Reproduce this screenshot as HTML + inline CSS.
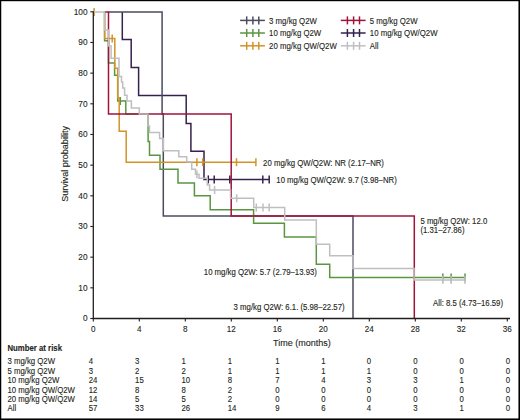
<!DOCTYPE html>
<html><head><meta charset="utf-8"><style>
html,body{margin:0;padding:0;background:#fff;}
body{width:520px;height:420px;overflow:hidden;position:relative;}
svg{position:absolute;left:0;top:0;}
text{font-family:"Liberation Sans", sans-serif;fill:#231f20;stroke:#231f20;stroke-width:0.12;}
</style></head><body>
<svg width="520" height="420" viewBox="0 0 520 420">
<rect x="0" y="0" width="520" height="420" fill="#fff"/>

<path d="M122.3,12 V39.5 H131.2 V67.6 H138.6 V95.4 H186.2 V123.4 H190.9 V151.3 H204 V179.4 H269.2" fill="none" stroke="#36214e" stroke-width="1.5" stroke-linejoin="miter" stroke-linecap="butt"/>
<line x1="208.3" y1="175.4" x2="208.3" y2="183.4" stroke="#36214e" stroke-width="1.5"/>
<line x1="214.2" y1="175.4" x2="214.2" y2="183.4" stroke="#36214e" stroke-width="1.5"/>
<line x1="229.8" y1="175.4" x2="229.8" y2="183.4" stroke="#36214e" stroke-width="1.5"/>
<line x1="262.8" y1="175.4" x2="262.8" y2="183.4" stroke="#36214e" stroke-width="1.5"/>
<line x1="269.2" y1="175.4" x2="269.2" y2="183.4" stroke="#36214e" stroke-width="1.5"/>
<path d="M108.6,12 H162.1 V114 H163.3 V216 H353 V318.5" fill="none" stroke="#4a4c5e" stroke-width="1.5" stroke-linejoin="miter" stroke-linecap="butt"/>
<path d="M104.6,12 V40.7 H108.5 V62.9 H114.6 V75.2 H117.7 V101 H125.8 V114 H148.1 V141.4 H149.5 V155.3 H160 V169.2 H178 V183 H194.4 V195.8 H210.2 V209.7 H253.6 V223.3 H284.4 V237 H316.3 V264.2 H329.7 V277.5 H465" fill="none" stroke="#5a9642" stroke-width="1.5" stroke-linejoin="miter" stroke-linecap="butt"/>
<line x1="120.3" y1="97.0" x2="120.3" y2="105.0" stroke="#5a9642" stroke-width="1.5"/>
<line x1="442.8" y1="273.5" x2="442.8" y2="281.5" stroke="#5a9642" stroke-width="1.5"/>
<line x1="451.1" y1="273.5" x2="451.1" y2="281.5" stroke="#5a9642" stroke-width="1.5"/>
<line x1="465" y1="273.5" x2="465" y2="281.5" stroke="#5a9642" stroke-width="1.5"/>
<path d="M104.6,12 V38.6 H114.8 V68.2 H117.7 V98 H119.2 V131.2 H126.2 V162.2 H256" fill="none" stroke="#d29328" stroke-width="1.5" stroke-linejoin="miter" stroke-linecap="butt"/>
<line x1="94.1" y1="8" x2="94.1" y2="16" stroke="#d29328" stroke-width="1.5"/>
<line x1="112.2" y1="34.6" x2="112.2" y2="42.6" stroke="#d29328" stroke-width="1.5"/>
<line x1="196.9" y1="158.2" x2="196.9" y2="166.2" stroke="#d29328" stroke-width="1.5"/>
<line x1="202.7" y1="158.2" x2="202.7" y2="166.2" stroke="#d29328" stroke-width="1.5"/>
<line x1="236.5" y1="158.2" x2="236.5" y2="166.2" stroke="#d29328" stroke-width="1.5"/>
<line x1="255.9" y1="158.2" x2="255.9" y2="166.2" stroke="#d29328" stroke-width="1.5"/>
<path d="M104.4,12 H108.5 V114 H231.2 V216 H414.3 V318.5" fill="none" stroke="#a0143c" stroke-width="1.5" stroke-linejoin="miter" stroke-linecap="butt"/>
<path d="M93.3,12 H104.6 V30 H108.6 V46 H111.1 V58.3 H119 V76.6 H121.5 V82 H122.7 V88 H124.6 V95.3 H127 V101 H131.4 V108 H139.3 V114 H148 V126 H149.5 V132.4 H159.6 V138.6 H163.3 V150.8 H178.8 V156.7 H186.7 V161.7 H191.7 V169.2 H195.5 V174.2 H199 V178.3 H207.3 V185 H209.6 V190 H230.5 V198.3 H253.7 V207.5 H284.7 V220 H316.3 V244.2 H329.7 V255.8 H353 V268.4 H414.1 V280 H465" fill="none" stroke="#bfbfc1" stroke-width="1.5" stroke-linejoin="miter" stroke-linecap="butt"/>
<line x1="214.6" y1="186.0" x2="214.6" y2="194.0" stroke="#bfbfc1" stroke-width="1.5"/>
<line x1="236.7" y1="194.3" x2="236.7" y2="202.3" stroke="#bfbfc1" stroke-width="1.5"/>
<line x1="256.3" y1="203.5" x2="256.3" y2="211.5" stroke="#bfbfc1" stroke-width="1.5"/>
<line x1="263" y1="203.5" x2="263" y2="211.5" stroke="#bfbfc1" stroke-width="1.5"/>
<line x1="269.2" y1="203.5" x2="269.2" y2="211.5" stroke="#bfbfc1" stroke-width="1.5"/>
<line x1="196.9" y1="170.2" x2="196.9" y2="178.2" stroke="#bfbfc1" stroke-width="1.5"/>
<line x1="442.8" y1="276.0" x2="442.8" y2="284.0" stroke="#bfbfc1" stroke-width="1.5"/>
<line x1="451.1" y1="276.0" x2="451.1" y2="284.0" stroke="#bfbfc1" stroke-width="1.5"/>
<line x1="465" y1="276.0" x2="465" y2="284.0" stroke="#bfbfc1" stroke-width="1.5"/>
<line x1="93.3" y1="11.2" x2="93.3" y2="319.1" stroke="#231f20" stroke-width="1.3"/>
<line x1="92.7" y1="318.5" x2="510" y2="318.5" stroke="#231f20" stroke-width="1.3"/>
<line x1="90.3" y1="318.50" x2="93.3" y2="318.50" stroke="#231f20" stroke-width="1.1"/>
<text transform="translate(87.50 321.30) scale(0.9 1)" font-size="9.2" text-anchor="end">0</text>
<line x1="90.3" y1="287.83" x2="93.3" y2="287.83" stroke="#231f20" stroke-width="1.1"/>
<text transform="translate(87.50 290.63) scale(0.9 1)" font-size="9.2" text-anchor="end">10</text>
<line x1="90.3" y1="257.16" x2="93.3" y2="257.16" stroke="#231f20" stroke-width="1.1"/>
<text transform="translate(87.50 259.96) scale(0.9 1)" font-size="9.2" text-anchor="end">20</text>
<line x1="90.3" y1="226.49" x2="93.3" y2="226.49" stroke="#231f20" stroke-width="1.1"/>
<text transform="translate(87.50 229.29) scale(0.9 1)" font-size="9.2" text-anchor="end">30</text>
<line x1="90.3" y1="195.82" x2="93.3" y2="195.82" stroke="#231f20" stroke-width="1.1"/>
<text transform="translate(87.50 198.62) scale(0.9 1)" font-size="9.2" text-anchor="end">40</text>
<line x1="90.3" y1="165.15" x2="93.3" y2="165.15" stroke="#231f20" stroke-width="1.1"/>
<text transform="translate(87.50 167.95) scale(0.9 1)" font-size="9.2" text-anchor="end">50</text>
<line x1="90.3" y1="134.48" x2="93.3" y2="134.48" stroke="#231f20" stroke-width="1.1"/>
<text transform="translate(87.50 137.28) scale(0.9 1)" font-size="9.2" text-anchor="end">60</text>
<line x1="90.3" y1="103.81" x2="93.3" y2="103.81" stroke="#231f20" stroke-width="1.1"/>
<text transform="translate(87.50 106.61) scale(0.9 1)" font-size="9.2" text-anchor="end">70</text>
<line x1="90.3" y1="73.14" x2="93.3" y2="73.14" stroke="#231f20" stroke-width="1.1"/>
<text transform="translate(87.50 75.94) scale(0.9 1)" font-size="9.2" text-anchor="end">80</text>
<line x1="90.3" y1="42.47" x2="93.3" y2="42.47" stroke="#231f20" stroke-width="1.1"/>
<text transform="translate(87.50 45.27) scale(0.9 1)" font-size="9.2" text-anchor="end">90</text>
<line x1="90.3" y1="11.80" x2="93.3" y2="11.80" stroke="#231f20" stroke-width="1.1"/>
<text transform="translate(87.50 14.60) scale(0.9 1)" font-size="9.2" text-anchor="end">100</text>
<line x1="93.30" y1="318.5" x2="93.30" y2="321.5" stroke="#231f20" stroke-width="1.1"/>
<text transform="translate(93.30 332.30) scale(0.88 1)" font-size="9.2" text-anchor="middle">0</text>
<line x1="139.30" y1="318.5" x2="139.30" y2="321.5" stroke="#231f20" stroke-width="1.1"/>
<text transform="translate(139.30 332.30) scale(0.88 1)" font-size="9.2" text-anchor="middle">4</text>
<line x1="185.30" y1="318.5" x2="185.30" y2="321.5" stroke="#231f20" stroke-width="1.1"/>
<text transform="translate(185.30 332.30) scale(0.88 1)" font-size="9.2" text-anchor="middle">8</text>
<line x1="231.30" y1="318.5" x2="231.30" y2="321.5" stroke="#231f20" stroke-width="1.1"/>
<text transform="translate(231.30 332.30) scale(0.88 1)" font-size="9.2" text-anchor="middle">12</text>
<line x1="277.30" y1="318.5" x2="277.30" y2="321.5" stroke="#231f20" stroke-width="1.1"/>
<text transform="translate(277.30 332.30) scale(0.88 1)" font-size="9.2" text-anchor="middle">16</text>
<line x1="323.30" y1="318.5" x2="323.30" y2="321.5" stroke="#231f20" stroke-width="1.1"/>
<text transform="translate(323.30 332.30) scale(0.88 1)" font-size="9.2" text-anchor="middle">20</text>
<line x1="369.30" y1="318.5" x2="369.30" y2="321.5" stroke="#231f20" stroke-width="1.1"/>
<text transform="translate(369.30 332.30) scale(0.88 1)" font-size="9.2" text-anchor="middle">24</text>
<line x1="415.30" y1="318.5" x2="415.30" y2="321.5" stroke="#231f20" stroke-width="1.1"/>
<text transform="translate(415.30 332.30) scale(0.88 1)" font-size="9.2" text-anchor="middle">28</text>
<line x1="461.30" y1="318.5" x2="461.30" y2="321.5" stroke="#231f20" stroke-width="1.1"/>
<text transform="translate(461.30 332.30) scale(0.88 1)" font-size="9.2" text-anchor="middle">32</text>
<line x1="507.30" y1="318.5" x2="507.30" y2="321.5" stroke="#231f20" stroke-width="1.1"/>
<text transform="translate(507.30 332.30) scale(0.88 1)" font-size="9.2" text-anchor="middle">36</text>
<text transform="translate(273.00 346.00) scale(0.98 1)" font-size="9.2">Time (months)</text>
<text transform="translate(67.8,163.9) rotate(-90) scale(0.94 1)" font-size="9.6" text-anchor="middle">Survival probability</text>
<line x1="240.1" y1="20.4" x2="264.9" y2="20.4" stroke="#4a4c5e" stroke-width="1.5"/><line x1="246.7" y1="16.4" x2="246.7" y2="24.4" stroke="#4a4c5e" stroke-width="1.5"/><line x1="252.9" y1="16.4" x2="252.9" y2="24.4" stroke="#4a4c5e" stroke-width="1.5"/><line x1="258.8" y1="16.4" x2="258.8" y2="24.4" stroke="#4a4c5e" stroke-width="1.5"/><text transform="translate(269.10 23.50) scale(0.93 1)" font-size="8.4">3 mg/kg Q2W</text>
<line x1="240.1" y1="33.0" x2="264.9" y2="33.0" stroke="#5a9642" stroke-width="1.5"/><line x1="246.7" y1="29.0" x2="246.7" y2="37.0" stroke="#5a9642" stroke-width="1.5"/><line x1="252.9" y1="29.0" x2="252.9" y2="37.0" stroke="#5a9642" stroke-width="1.5"/><line x1="258.8" y1="29.0" x2="258.8" y2="37.0" stroke="#5a9642" stroke-width="1.5"/><text transform="translate(269.10 36.10) scale(0.93 1)" font-size="8.4">10 mg/kg Q2W</text>
<line x1="240.1" y1="45.8" x2="264.9" y2="45.8" stroke="#d29328" stroke-width="1.5"/><line x1="246.7" y1="41.8" x2="246.7" y2="49.8" stroke="#d29328" stroke-width="1.5"/><line x1="252.9" y1="41.8" x2="252.9" y2="49.8" stroke="#d29328" stroke-width="1.5"/><line x1="258.8" y1="41.8" x2="258.8" y2="49.8" stroke="#d29328" stroke-width="1.5"/><text transform="translate(269.10 48.90) scale(0.93 1)" font-size="8.4">20 mg/kg QW/Q2W</text>
<line x1="340.8" y1="20.4" x2="365.6" y2="20.4" stroke="#a0143c" stroke-width="1.5"/><line x1="347.40000000000003" y1="16.4" x2="347.40000000000003" y2="24.4" stroke="#a0143c" stroke-width="1.5"/><line x1="353.6" y1="16.4" x2="353.6" y2="24.4" stroke="#a0143c" stroke-width="1.5"/><line x1="359.5" y1="16.4" x2="359.5" y2="24.4" stroke="#a0143c" stroke-width="1.5"/><text transform="translate(369.80 23.50) scale(0.93 1)" font-size="8.4">5 mg/kg Q2W</text>
<line x1="340.8" y1="33.0" x2="365.6" y2="33.0" stroke="#36214e" stroke-width="1.5"/><line x1="347.40000000000003" y1="29.0" x2="347.40000000000003" y2="37.0" stroke="#36214e" stroke-width="1.5"/><line x1="353.6" y1="29.0" x2="353.6" y2="37.0" stroke="#36214e" stroke-width="1.5"/><line x1="359.5" y1="29.0" x2="359.5" y2="37.0" stroke="#36214e" stroke-width="1.5"/><text transform="translate(369.80 36.10) scale(0.93 1)" font-size="8.4">10 mg/kg QW/Q2W</text>
<line x1="340.8" y1="45.8" x2="365.6" y2="45.8" stroke="#bfbfc1" stroke-width="1.5"/><line x1="347.40000000000003" y1="41.8" x2="347.40000000000003" y2="49.8" stroke="#bfbfc1" stroke-width="1.5"/><line x1="353.6" y1="41.8" x2="353.6" y2="49.8" stroke="#bfbfc1" stroke-width="1.5"/><line x1="359.5" y1="41.8" x2="359.5" y2="49.8" stroke="#bfbfc1" stroke-width="1.5"/><text transform="translate(369.80 48.90) scale(0.93 1)" font-size="8.4">All</text>
<text transform="translate(263.10 165.50) scale(0.95 1)" font-size="8.2">20 mg/kg QW/Q2W: NR (2.17–NR)</text>
<text transform="translate(276.30 182.90) scale(0.95 1)" font-size="8.2">10 mg/kg QW/Q2W: 9.7 (3.98–NR)</text>
<text transform="translate(420.40 223.90) scale(0.95 1)" font-size="8.2">5 mg/kg Q2W: 12.0</text>
<text transform="translate(420.40 232.90) scale(0.95 1)" font-size="8.2">(1.31–27.86)</text>
<text transform="translate(203.80 275.30) scale(0.95 1)" font-size="8.2">10 mg/kg Q2W: 5.7 (2.79–13.93)</text>
<text transform="translate(233.60 310.40) scale(0.95 1)" font-size="8.2">3 mg/kg Q2W: 6.1. (5.98–22.57)</text>
<text transform="translate(433.00 306.00) scale(0.95 1)" font-size="8.2">All: 8.5 (4.73–16.59)</text>
<text transform="translate(7.50 351.10) scale(0.885 1)" font-size="8.8" font-weight="bold">Number at risk</text>
<text transform="translate(7.50 364.40) scale(0.885 1)" font-size="8.8">3 mg/kg Q2W</text>
<text transform="translate(88.80 364.40) scale(0.885 1)" font-size="8.8">4</text>
<text transform="translate(135.10 364.40) scale(0.885 1)" font-size="8.8">3</text>
<text transform="translate(181.40 364.40) scale(0.885 1)" font-size="8.8">1</text>
<text transform="translate(227.70 364.40) scale(0.885 1)" font-size="8.8">1</text>
<text transform="translate(275.30 364.40) scale(0.885 1)" font-size="8.8">1</text>
<text transform="translate(321.20 364.40) scale(0.885 1)" font-size="8.8">1</text>
<text transform="translate(366.80 364.40) scale(0.885 1)" font-size="8.8">0</text>
<text transform="translate(413.20 364.40) scale(0.885 1)" font-size="8.8">0</text>
<text transform="translate(459.40 364.40) scale(0.885 1)" font-size="8.8">0</text>
<text transform="translate(505.80 364.40) scale(0.885 1)" font-size="8.8">0</text>
<text transform="translate(7.50 373.75) scale(0.885 1)" font-size="8.8">5 mg/kg Q2W</text>
<text transform="translate(88.80 373.75) scale(0.885 1)" font-size="8.8">3</text>
<text transform="translate(135.10 373.75) scale(0.885 1)" font-size="8.8">2</text>
<text transform="translate(181.40 373.75) scale(0.885 1)" font-size="8.8">2</text>
<text transform="translate(227.70 373.75) scale(0.885 1)" font-size="8.8">1</text>
<text transform="translate(275.30 373.75) scale(0.885 1)" font-size="8.8">1</text>
<text transform="translate(321.20 373.75) scale(0.885 1)" font-size="8.8">1</text>
<text transform="translate(366.80 373.75) scale(0.885 1)" font-size="8.8">1</text>
<text transform="translate(413.20 373.75) scale(0.885 1)" font-size="8.8">0</text>
<text transform="translate(459.40 373.75) scale(0.885 1)" font-size="8.8">0</text>
<text transform="translate(505.80 373.75) scale(0.885 1)" font-size="8.8">0</text>
<text transform="translate(7.50 383.20) scale(0.885 1)" font-size="8.8">10 mg/kg Q2W</text>
<text transform="translate(88.80 383.20) scale(0.885 1)" font-size="8.8">24</text>
<text transform="translate(135.10 383.20) scale(0.885 1)" font-size="8.8">15</text>
<text transform="translate(181.40 383.20) scale(0.885 1)" font-size="8.8">10</text>
<text transform="translate(227.70 383.20) scale(0.885 1)" font-size="8.8">8</text>
<text transform="translate(275.30 383.20) scale(0.885 1)" font-size="8.8">7</text>
<text transform="translate(321.20 383.20) scale(0.885 1)" font-size="8.8">4</text>
<text transform="translate(366.80 383.20) scale(0.885 1)" font-size="8.8">3</text>
<text transform="translate(413.20 383.20) scale(0.885 1)" font-size="8.8">3</text>
<text transform="translate(459.40 383.20) scale(0.885 1)" font-size="8.8">1</text>
<text transform="translate(505.80 383.20) scale(0.885 1)" font-size="8.8">0</text>
<text transform="translate(7.50 392.50) scale(0.885 1)" font-size="8.8">10 mg/kg QW/Q2W</text>
<text transform="translate(88.80 392.50) scale(0.885 1)" font-size="8.8">12</text>
<text transform="translate(135.10 392.50) scale(0.885 1)" font-size="8.8">8</text>
<text transform="translate(181.40 392.50) scale(0.885 1)" font-size="8.8">8</text>
<text transform="translate(227.70 392.50) scale(0.885 1)" font-size="8.8">2</text>
<text transform="translate(275.30 392.50) scale(0.885 1)" font-size="8.8">0</text>
<text transform="translate(321.20 392.50) scale(0.885 1)" font-size="8.8">0</text>
<text transform="translate(366.80 392.50) scale(0.885 1)" font-size="8.8">0</text>
<text transform="translate(413.20 392.50) scale(0.885 1)" font-size="8.8">0</text>
<text transform="translate(459.40 392.50) scale(0.885 1)" font-size="8.8">0</text>
<text transform="translate(505.80 392.50) scale(0.885 1)" font-size="8.8">0</text>
<text transform="translate(7.50 401.80) scale(0.885 1)" font-size="8.8">20 mg/kg QW/Q2W</text>
<text transform="translate(88.80 401.80) scale(0.885 1)" font-size="8.8">14</text>
<text transform="translate(135.10 401.80) scale(0.885 1)" font-size="8.8">5</text>
<text transform="translate(181.40 401.80) scale(0.885 1)" font-size="8.8">5</text>
<text transform="translate(227.70 401.80) scale(0.885 1)" font-size="8.8">2</text>
<text transform="translate(275.30 401.80) scale(0.885 1)" font-size="8.8">0</text>
<text transform="translate(321.20 401.80) scale(0.885 1)" font-size="8.8">0</text>
<text transform="translate(366.80 401.80) scale(0.885 1)" font-size="8.8">0</text>
<text transform="translate(413.20 401.80) scale(0.885 1)" font-size="8.8">0</text>
<text transform="translate(459.40 401.80) scale(0.885 1)" font-size="8.8">0</text>
<text transform="translate(505.80 401.80) scale(0.885 1)" font-size="8.8">0</text>
<text transform="translate(7.50 411.10) scale(0.885 1)" font-size="8.8">All</text>
<text transform="translate(88.80 411.10) scale(0.885 1)" font-size="8.8">57</text>
<text transform="translate(135.10 411.10) scale(0.885 1)" font-size="8.8">33</text>
<text transform="translate(181.40 411.10) scale(0.885 1)" font-size="8.8">26</text>
<text transform="translate(227.70 411.10) scale(0.885 1)" font-size="8.8">14</text>
<text transform="translate(275.30 411.10) scale(0.885 1)" font-size="8.8">9</text>
<text transform="translate(321.20 411.10) scale(0.885 1)" font-size="8.8">6</text>
<text transform="translate(366.80 411.10) scale(0.885 1)" font-size="8.8">4</text>
<text transform="translate(413.20 411.10) scale(0.885 1)" font-size="8.8">3</text>
<text transform="translate(459.40 411.10) scale(0.885 1)" font-size="8.8">1</text>
<text transform="translate(505.80 411.10) scale(0.885 1)" font-size="8.8">0</text>
<rect x="0" y="0" width="520" height="1" fill="#000"/><rect x="0" y="1" width="520" height="1" fill="#000" opacity="0.2"/>
<rect x="0" y="0" width="1" height="420" fill="#000"/><rect x="1" y="0" width="1" height="420" fill="#000" opacity="0.25"/>
<rect x="519" y="0" width="1" height="420" fill="#000"/><rect x="518" y="0" width="1" height="420" fill="#000" opacity="0.55"/>
<rect x="0" y="419" width="520" height="1" fill="#000"/><rect x="0" y="418" width="520" height="1" fill="#000" opacity="0.55"/>
</svg></body></html>
